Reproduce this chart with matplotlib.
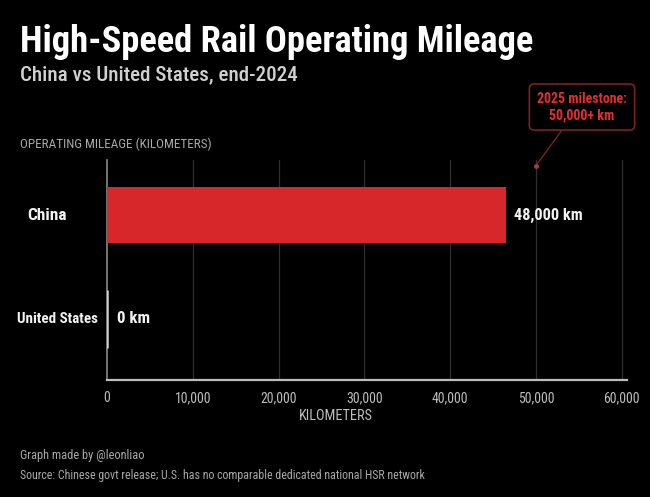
import matplotlib
matplotlib.use("Agg")
import matplotlib.pyplot as plt
from matplotlib import font_manager as fm

# ---------------- data ----------------
categories = ["China", "United States"]
values_km = [46500, 0]
value_labels = ["48,000 km", "0 km"]
x_ticks = [0, 10000, 20000, 30000, 40000, 50000, 60000]
x_tick_labels = ["0", "10,000", "20,000", "30,000", "40,000", "50,000", "60,000"]
milestone_x = 50000
milestone_text = "2025 milestone:\n50,000+ km"
title = "High-Speed Rail Operating Mileage"
subtitle = "China vs United States, end-2024"
axis_caption = "OPERATING MILEAGE (KILOMETERS)"
x_label = "KILOMETERS"
credit = "Graph made by @leonliao"
source = "Source: Chinese govt release; U.S. has no comparable dedicated national HSR network"

# ---------------- fonts ----------------
names = {f.name for f in fm.fontManager.ttflist}
FONT = "Roboto"
for cand in ["Roboto Condensed", "Liberation Sans Narrow", "Roboto", "DejaVu Sans"]:
    if cand in names:
        FONT = cand
        break
plt.rcParams["font.family"] = [FONT, "DejaVu Sans"]

W, H = 650, 497
fig = plt.figure(figsize=(W / 100, H / 100), dpi=100, facecolor="#000000")

def fx(px):
    return px / W

def fy(py):
    return 1 - py / H

ax = fig.add_axes([fx(107), fy(380), fx(627) - fx(107), (380 - 160) / H])
ax.set_facecolor("#000000")

RED = "#d8272b"
ypos = list(range(len(categories)))
ax.barh(ypos[0], values_km[0], height=0.54, color=RED, zorder=3)
ax.barh(ypos[1], values_km[1], height=0.56, color="#d0d0d0",
        edgecolor="#d0d0d0", linewidth=1.8, zorder=3)

ax.set_xlim(0, 60600)
ax.set_ylim(1.587, -0.53)
ax.set_xticks(x_ticks)
ax.set_xticklabels(x_tick_labels)
ax.set_yticks([])
ax.tick_params(axis="x", length=0, pad=8, colors="#bdbdbd", labelsize=8)

for xt in x_ticks[1:]:
    ax.axvline(xt, color="#303030", linewidth=0.9, zorder=1)

for s in ["top", "right"]:
    ax.spines[s].set_visible(False)
ax.spines["left"].set_color("#8a8a8a")
ax.spines["left"].set_linewidth(1.2)
ax.spines["bottom"].set_color("#bdbdbd")
ax.spines["bottom"].set_linewidth(1.6)

renderer = fig.canvas.get_renderer()

def fit(t, width_px):
    t.set_fontsize(10)
    w = t.get_window_extent(renderer).width
    if w > 0:
        t.set_fontsize(10 * width_px / w)
    return t

blend_fig_data = matplotlib.transforms.blended_transform_factory(fig.transFigure, ax.transData)

# category labels
cat_right_px = [67, 98]
cat_width_px = [39, 81]
for i, c in enumerate(categories):
    t = ax.text(fx(cat_right_px[i]), ypos[i], c, transform=blend_fig_data,
                ha="right", va="center", color="#f2f2f2", fontweight="bold")
    fit(t, cat_width_px[i])

# value labels
val_width_px = [69, 33]
val_offset_px = [8, 10]
for i, v in enumerate(values_km):
    t = ax.annotate(value_labels[i], xy=(v, ypos[i]), xytext=(val_offset_px[i], 0),
                    textcoords="offset pixels", ha="left", va="center",
                    color="#f2f2f2", fontweight="semibold")
    fit(t, val_width_px[i])

# tick label size fit
tl = ax.get_xticklabels()[1]
fig.canvas.draw()
w = tl.get_window_extent(renderer).width
if w > 0:
    ax.tick_params(axis="x", labelsize=8 * 37 / w)

# texts
t = fig.text(fx(20), fy(42), title, ha="left", va="center", color="#ffffff", fontweight="bold")
fit(t, 514)
t = fig.text(fx(20), fy(75), subtitle, ha="left", va="center", color="#d0d0d0", fontweight="medium")
fit(t, 276)
t = fig.text(fx(20), fy(144), axis_caption, ha="left", va="center", color="#a8a8a8")
fit(t, 193)
t = fig.text(fx(336), fy(416), x_label, ha="center", va="center", color="#bdbdbd")
fit(t, 74)
t = fig.text(fx(20), fy(456), credit, ha="left", va="center", color="#a8a8a8")
fit(t, 124)
t = fig.text(fx(20), fy(475), source, ha="left", va="center", color="#a8a8a8")
fit(t, 402)

# milestone annotation
ann = ax.annotate(milestone_text, xy=(milestone_x, 0.975), xycoords=("data", "axes fraction"),
                  xytext=(fx(582), fy(107)), textcoords="figure fraction",
                  ha="center", va="center", color="#e0302f", linespacing=1.25,
                  fontweight="semibold",
                  bbox=dict(boxstyle="round,pad=0.55,rounding_size=0.35",
                            fc="#000000", ec="#7a2224", lw=1.2),
                  arrowprops=dict(arrowstyle="-", color="#7a2224", lw=1.0,
                                  shrinkA=0, shrinkB=0, relpos=(0.34, 0.0)),
                  annotation_clip=False, zorder=5)
ann.set_fontsize(10)
fig.canvas.draw()
tmp = fig.text(0, 0, milestone_text.split("\n")[0], fontsize=10, fontweight="semibold")
wl = tmp.get_window_extent(renderer).width
tmp.remove()
if wl > 0:
    ann.set_fontsize(10 * 90 / wl)
ax.plot([milestone_x], [0.975], marker="o", markersize=2.5, color="#a04040",
        transform=matplotlib.transforms.blended_transform_factory(ax.transData, ax.transAxes),
        clip_on=False, zorder=6)

fig.savefig("out.png", dpi=100, facecolor="#000000")
